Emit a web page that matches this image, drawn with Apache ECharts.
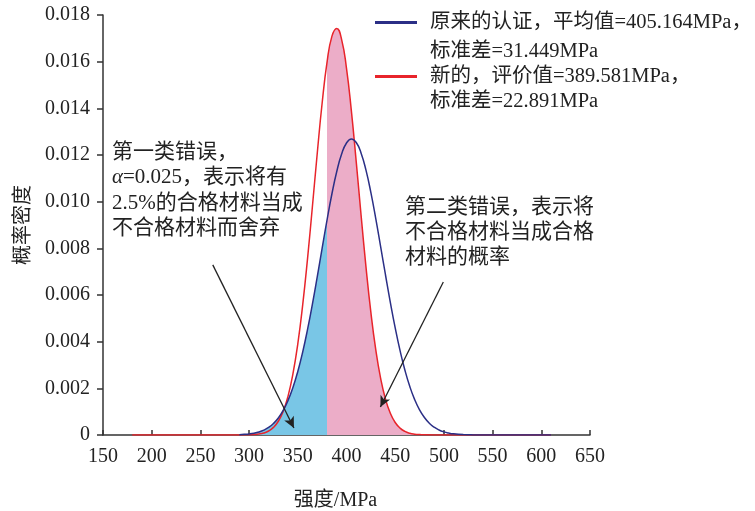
<!DOCTYPE html>
<html>
<head>
<meta charset="utf-8">
<script src="https://cdn.jsdelivr.net/npm/echarts@6/dist/echarts.min.js"></script>
<style>
  html, body { margin: 0; padding: 0; background: #fff; }
  #chart { width: 755px; height: 511px; }
</style>
</head>
<body>
<div id="chart"></div>
<script>
// values
const xTicks = [150, 650, 50];
const yTicks = [0, 0.018, 0.002];

// new evaluation (red), strength in MPa
const xRed = [180, 250, 290, 300, 305, 310, 315, 320, 325, 330, 335, 340, 345, 350, 355, 360, 365, 370, 375,
  380, 385, 390, 395, 400, 405, 410, 415, 420, 425, 430, 435, 440, 445, 450, 455, 460, 465, 470, 475, 480,
  490, 500, 550, 610];
const yRed = [0, 0, 0.000001, 0.0000082, 0.0000189, 0.0000414, 0.0000863, 0.0001717, 0.0003257, 0.0005893,
  0.0010157, 0.0016684, 0.002616, 0.003909, 0.005568, 0.007562, 0.009793, 0.012088, 0.014228,
  0.015966, 0.017083, 0.017425, 0.016947, 0.015713, 0.01389, 0.011708, 0.009408, 0.007208, 0.005265,
  0.003667, 0.002435, 0.001541, 0.00093, 0.000535, 0.000294, 0.0001536, 0.0000766, 0.0000364, 0.0000165,
  0.0000071, 0.000001, 0, 0, 0];

// original certification (blue)
const xBlue = [290, 295, 300, 305, 310, 315, 320, 325, 330, 335, 340, 345, 350, 355, 360, 365, 370, 375, 380,
  385, 390, 395, 400, 405, 410, 415, 420, 425, 430, 435, 440, 445, 450, 455, 460, 465, 470, 475, 480, 485,
  490, 495, 500, 505, 510, 520, 530, 550, 610];
const yBlue = [0.0000155, 0.0000275, 0.0000473, 0.0000795, 0.0001303, 0.0002082, 0.000324, 0.0004926,
  0.0007297, 0.001053, 0.001483, 0.002035, 0.002724, 0.003554, 0.004524, 0.005612, 0.006789, 0.008008,
  0.009211, 0.010328, 0.011292, 0.012039, 0.012515, 0.012685, 0.012536, 0.01208, 0.011349, 0.010397,
  0.009287, 0.008088, 0.006868, 0.005687, 0.004591, 0.003614, 0.002774, 0.002077, 0.001515, 0.001078,
  0.000748, 0.000506, 0.000333, 0.0002145, 0.0001345, 0.0000822, 0.000049, 0.0000161, 0.0000048, 0, 0];

const cutoff = 380;       // boundary between the two shaded regions
const pinkEnd = 480;

// annotation arrows [from, to] in data coords
const arrow1 = [[262.7, 0.00729], [346, 0.0003]];
const arrow2 = [[499.4, 0.00656], [434.8, 0.0012]];

const nameBlue = '原来的认证，平均值=405.164MPa，';
const nameRed = '新的，评价值=389.581MPa，';
const sdBlue = '标准差=31.449MPa';
const sdRed = '标准差=22.891MPa';

const FONT = "'Liberation Serif', 'Noto Sans CJK SC', serif";

const zip = (xs, ys) => xs.map((x, i) => [x, ys[i]]);
const redData = zip(xRed, yRed);
const blueData = zip(xBlue, yBlue);
const blueFill = blueData.filter(p => p[0] <= cutoff);
const pinkFill = redData.filter(p => p[0] >= cutoff && p[0] <= pinkEnd);

const chart = echarts.init(document.getElementById('chart'));

chart.setOption({
  animation: false,
  backgroundColor: '#fff',
  textStyle: { fontFamily: FONT },
  grid: { left: 103, right: 165, top: 15, bottom: 76, outerBoundsMode: 'none', containLabel: false },
  legend: {
    orient: 'vertical',
    left: 375,
    top: 9,
    padding: 0,
    itemGap: 27,
    itemWidth: 42,
    itemHeight: 3,
    icon: 'rect',
    selectedMode: false,
    textStyle: { fontSize: 20.5, lineHeight: 27, color: '#222', fontFamily: FONT, padding: [0, 0, 0, 8] },
    data: [
      { name: nameBlue, itemStyle: { color: '#2b2f86' } },
      { name: nameRed, itemStyle: { color: '#e8242b' } }
    ]
  },
  xAxis: {
    type: 'value',
    min: xTicks[0],
    max: xTicks[1],
    interval: xTicks[2],
    name: '强度/MPa',
    nameLocation: 'middle',
    nameGap: 56,
    nameTextStyle: { fontSize: 20, color: '#222', fontFamily: FONT, padding: [0, 22, 0, 0] },
    axisLine: { lineStyle: { color: '#333', width: 1.5 } },
    axisTick: { inside: true, length: 5, lineStyle: { color: '#333', width: 1.5 } },
    axisLabel: { fontSize: 20, color: '#222', margin: 12, fontFamily: FONT },
    splitLine: { show: false }
  },
  yAxis: {
    type: 'value',
    min: yTicks[0],
    max: yTicks[1],
    interval: yTicks[2],
    name: '概率密度',
    nameLocation: 'middle',
    nameRotate: 90,
    nameGap: 67,
    nameTextStyle: { fontSize: 20, color: '#222', fontFamily: FONT },
    axisLine: { show: true, lineStyle: { color: '#333', width: 1.5 } },
    axisTick: { show: true, length: 6, lineStyle: { color: '#333', width: 1.5 } },
    axisLabel: {
      fontSize: 20, color: '#222', margin: 13, fontFamily: FONT,
      formatter: v => (v === 0 ? '0' : v.toFixed(3))
    },
    splitLine: { show: false }
  },
  series: [
    {
      name: 'blueFill',
      type: 'line',
      data: blueFill,
      smooth: true,
      symbol: 'none',
      lineStyle: { width: 0 },
      areaStyle: { color: '#79c6e6', opacity: 1 },
      z: 1,
      silent: true
    },
    {
      name: 'pinkFill',
      type: 'line',
      data: pinkFill,
      smooth: true,
      symbol: 'none',
      lineStyle: { width: 0 },
      areaStyle: { color: '#ecadc8', opacity: 1 },
      z: 1,
      silent: true
    },
    {
      name: nameRed,
      type: 'line',
      data: redData,
      smooth: true,
      symbol: 'none',
      color: '#e8242b',
      lineStyle: { color: '#e8242b', width: 1.5 },
      z: 3,
      markLine: {
        silent: true,
        symbol: ['none', 'arrow'],
        symbolSize: [8, 11],
        label: { show: false },
        lineStyle: { color: '#222', width: 1.3, type: 'solid' },
        data: [
          [{ coord: arrow1[0] }, { coord: arrow1[1] }],
          [{ coord: arrow2[0] }, { coord: arrow2[1] }]
        ]
      }
    },
    {
      name: nameBlue,
      type: 'line',
      data: blueData,
      smooth: true,
      symbol: 'none',
      color: '#2b2f86',
      lineStyle: { color: '#2b2f86', width: 1.5 },
      z: 4
    }
  ],
  graphic: [
    {
      type: 'text',
      left: 430,
      top: 39,
      style: { text: sdBlue, font: '20.5px ' + FONT, lineHeight: 25, fill: '#222' }
    },
    {
      type: 'text',
      left: 430,
      top: 89,
      style: { text: sdRed, font: '20.5px ' + FONT, lineHeight: 25, fill: '#222' }
    },
    {
      type: 'text',
      left: 112,
      top: 140,
      style: {
        text: '第一类错误，\n{i|α}=0.025，表示将有\n2.5%的合格材料当成\n不合格材料而舍弃',
        font: '21px ' + FONT,
        lineHeight: 25.3,
        fill: '#222',
        rich: { i: { fontStyle: 'italic', fontSize: 21, fontFamily: FONT, lineHeight: 25.3 } }
      }
    },
    {
      type: 'text',
      left: 405,
      top: 195,
      style: {
        text: '第二类错误，表示将\n不合格材料当成合格\n材料的概率',
        font: '21px ' + FONT,
        lineHeight: 25,
        fill: '#222'
      }
    }
  ]
});
</script>
</body>
</html>
